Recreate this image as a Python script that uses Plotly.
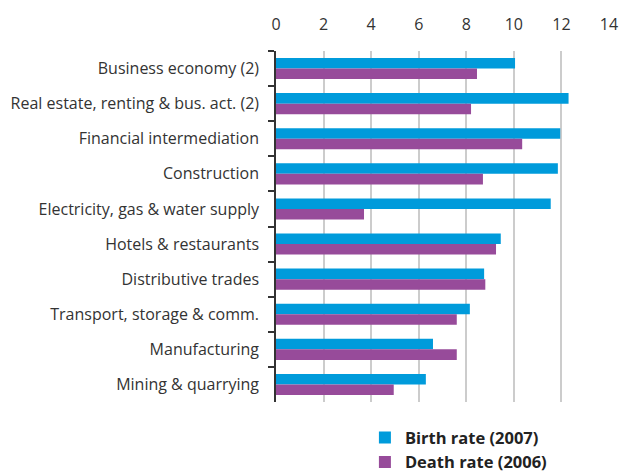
import plotly.graph_objects as go

categories = [
    "Business economy (2)",
    "Real estate, renting & bus. act. (2)",
    "Financial intermediation",
    "Construction",
    "Electricity, gas & water supply",
    "Hotels & restaurants",
    "Distributive trades",
    "Transport, storage & comm.",
    "Manufacturing",
    "Mining & quarrying",
]
birth_rate_2007 = [10.05, 12.3, 11.95, 11.85, 11.55, 9.45, 8.75, 8.15, 6.6, 6.3]
death_rate_2006 = [8.45, 8.2, 10.35, 8.7, 3.7, 9.25, 8.8, 7.6, 7.6, 4.95]
x_ticks = [0, 2, 4, 6, 8, 10, 12, 14]

FONT = "Open Sans"
fig = go.Figure()
fig.add_trace(go.Bar(
    y=categories, x=birth_rate_2007, orientation="h",
    name="<b>Birth rate (2007)</b>", marker=dict(color="#009bdb", line_width=0),
))
fig.add_trace(go.Bar(
    y=categories, x=death_rate_2006, orientation="h",
    name="<b>Death rate (2006)</b>", marker=dict(color="#974b9a", line_width=0),
))

fig.update_layout(
    width=621, height=475,
    margin=dict(l=276, r=12, t=51, b=73, autoexpand=False),
    paper_bgcolor="white", plot_bgcolor="white",
    barmode="group", bargap=0.4, bargroupgap=0,
    font=dict(family=FONT, size=16, color="#333333"),
    legend=dict(
        x=0.267, y=0.115, xanchor="left", yanchor="top", yref="container",
        font=dict(family=FONT, size=16.5, color="#222222"),
        traceorder="normal", itemclick=False,
        bgcolor="rgba(0,0,0,0)", tracegroupgap=0,
    ),
    xaxis=dict(
        side="top", range=[0, 14], tickvals=x_ticks,
        showgrid=True, gridcolor="#cccccc", gridwidth=1.5,
        zeroline=False, showline=False, ticks="",
        ticklabelstandoff=17, automargin=False,
        tickfont=dict(family=FONT, size=16, color="#333333"),
    ),
    yaxis=dict(
        autorange="reversed", showgrid=False, zeroline=False,
        showline=True, linecolor="#333333", linewidth=1.5,
        ticks="outside", tickson="boundaries", ticklen=6,
        tickcolor="#333333", tickwidth=1.5, automargin=False,
        ticklabelstandoff=12,
        tickfont=dict(family=FONT, size=16, color="#333333"),
    ),
)

fig.write_html(
    "out.html",
    config={"displayModeBar": False},
    post_script="document.body.style.margin='0';",
)
